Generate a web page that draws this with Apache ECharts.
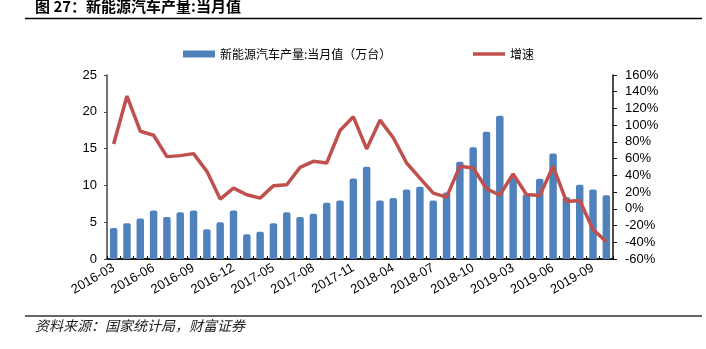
<!DOCTYPE html>
<html>
<head>
<meta charset="utf-8">
<script src="https://cdn.jsdelivr.net/npm/echarts@6/dist/echarts.min.js"></script>
<style>
html,body{margin:0;padding:0;background:#fff;}
#c{width:706px;height:349px;}
</style>
</head>
<body>
<div id="c"></div>
<script>
var categories = [
  '2016-03','2016-04','2016-05','2016-06','2016-07','2016-08','2016-09','2016-10','2016-11','2016-12',
  '2017-03','2017-04','2017-05','2017-06','2017-07','2017-08','2017-09','2017-10','2017-11','2017-12',
  '2018-03','2018-04','2018-05','2018-06','2018-07','2018-08','2018-09','2018-10','2018-11','2018-12',
  '2019-03','2019-04','2019-05','2019-06','2019-07','2019-08','2019-09','2019-10'
];
var production = [
  4.2, 4.85, 5.5, 6.6, 5.7, 6.35, 6.6, 4.05, 5.0, 6.6,
  3.35, 3.7, 4.85, 6.35, 5.7, 6.15, 7.65, 7.95, 10.95, 12.55,
  7.95, 8.3, 9.45, 9.8, 7.95, 9.05, 13.2, 15.2, 17.3, 19.45,
  11.1, 8.8, 10.9, 14.35, 8.4, 10.1, 9.45, 8.65
];
var growth = [
  77.6, 134.8, 92.8, 88, 62.4, 63.6, 66, 44.8, 11.6, 24.8,
  16.8, 12.8, 27.6, 28.8, 49.6, 56.8, 54.8, 93.6, 110, 71.6,
  106, 85, 54.8, 36.8, 18.8, 14, 50.8, 48.8, 24, 16.4,
  41.8, 17.2, 15.8, 50.8, 8.8, 10, -24.8, -39.2
];
var seriesNames = ['新能源汽车产量:当月值（万台）', '增速'];
var titleText = '图 27：新能源汽车产量:当月值';
var sourceText = '资料来源：国家统计局，财富证券';

var chart = echarts.init(document.getElementById('c'));
var axisFont = {fontFamily: 'Liberation Sans, Arial, sans-serif', fontSize: 13, color: '#000'};
var legendText = {fontFamily: 'Noto Sans CJK SC, sans-serif', fontSize: 12, color: '#000'};
chart.setOption({
  animation: false,
  textStyle: {fontFamily: 'Liberation Sans, Noto Sans CJK SC, sans-serif'},
  grid: {left: 107, right: 93, top: 75, bottom: 90, containLabel: false},
  legend: [
    {
      left: 178, top: 43, itemWidth: 32, itemHeight: 7,
      textStyle: legendText,
      data: [{name: seriesNames[0], icon: 'rect'}]
    },
    {
      left: 468, top: 43, itemWidth: 32, itemHeight: 3.5,
      textStyle: legendText,
      data: [{name: seriesNames[1], icon: 'rect'}]
    }
  ],
  xAxis: {
    type: 'category', data: categories, boundaryGap: true,
    axisLine: {lineStyle: {color: '#1a1a1a', width: 2}},
    axisTick: {show: true, inside: true, length: 3, interval: 0, lineStyle: {color: '#000'}},
    axisLabel: Object.assign({interval: 2, rotate: 30, margin: 8}, axisFont)
  },
  yAxis: [
    {
      type: 'value', min: 0, max: 25, interval: 5,
      axisLine: {show: true, lineStyle: {color: '#444', width: 1.5}},
      axisTick: {show: true, length: 3, lineStyle: {color: '#444'}},
      splitLine: {show: false},
      axisLabel: Object.assign({margin: 10}, axisFont)
    },
    {
      type: 'value', min: -60, max: 160, interval: 20, position: 'right',
      axisLine: {show: true, lineStyle: {color: '#111', width: 1.5}},
      axisTick: {show: true, length: 4, lineStyle: {color: '#111'}},
      splitLine: {show: false},
      axisLabel: Object.assign({margin: 12, formatter: '{value}%'}, axisFont)
    }
  ],
  series: [
    {
      name: seriesNames[0], type: 'bar', data: production, yAxisIndex: 0,
      barWidth: '56%',
      itemStyle: {color: '#4F81BD', borderRadius: [2, 2, 0, 0]}
    },
    {
      name: seriesNames[1], type: 'line', data: growth, yAxisIndex: 1,
      symbol: 'none', smooth: false,
      lineStyle: {color: '#C0504D', width: 3.5},
      itemStyle: {color: '#C0504D'}
    }
  ],
  graphic: [
    {type: 'text', left: 35, top: -1, style: {text: titleText, font: 'bold 15px "Noto Sans CJK SC", sans-serif', fill: '#000'}},
    {type: 'line', shape: {x1: 25, y1: 18.5, x2: 702, y2: 18.5}, style: {stroke: '#000', lineWidth: 1.5}},
    {type: 'line', shape: {x1: 25, y1: 316, x2: 702, y2: 316}, style: {stroke: '#666', lineWidth: 2}},
    {type: 'text', left: 35, top: 319, style: {text: sourceText, font: 'italic 14px "Noto Sans CJK SC", sans-serif', fill: '#222'}}
  ]
});
</script>
</body>
</html>
